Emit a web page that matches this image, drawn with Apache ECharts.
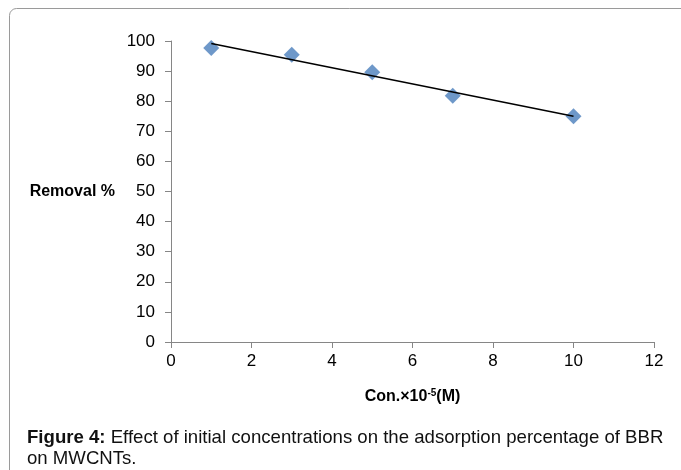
<!DOCTYPE html>
<html>
<head>
<meta charset="utf-8">
<script src="https://cdn.jsdelivr.net/npm/echarts@6/dist/echarts.min.js"></script>
<style>
html,body{margin:0;padding:0;background:#fff;}
#chart{width:681px;height:470px;}
</style>
</head>
<body>
<div id="chart"></div>
<script>
// Data
const concX = [1, 3, 5, 7, 10];
const removalY = [97.7, 95.4, 89.6, 81.8, 75.0];
// Linear trendline end points
const trendX = [1, 10];
const trendY = [99.2, 75.0];
const xTicks = [0, 2, 4, 6, 8, 10, 12];
const yTicks = [0, 10, 20, 30, 40, 50, 60, 70, 80, 90, 100];

const axisFont = 'Liberation Sans, sans-serif';
const chart = echarts.init(document.getElementById('chart'), null, {renderer: 'canvas'});
chart.setOption({
  animation: false,
  backgroundColor: '#ffffff',
  grid: {left: 171, right: 27, top: 41, bottom: 128, containLabel: false},
  xAxis: {
    type: 'value',
    min: xTicks[0], max: xTicks[xTicks.length - 1], interval: 2,
    splitLine: {show: false},
    axisLine: {show: true, onZero: false, lineStyle: {color: '#868686', width: 1}},
    axisTick: {show: true, inside: false, length: 6, lineStyle: {color: '#868686'}},
    axisLabel: {color: '#000', fontFamily: axisFont, fontSize: 17, margin: 11},
    name: '{b|Con.×10}{s|-5}{b|(M)}',
    nameLocation: 'middle',
    nameGap: 46,
    nameTextStyle: {
      rich: {
        b: {fontFamily: axisFont, fontWeight: 'bold', fontSize: 16, color: '#000'},
        s: {fontFamily: axisFont, fontWeight: 'bold', fontSize: 10, color: '#000', verticalAlign: 'top', padding: [0, 0, 8, 0]}
      }
    }
  },
  yAxis: {
    type: 'value',
    min: yTicks[0], max: yTicks[yTicks.length - 1], interval: 10,
    splitLine: {show: false},
    axisLine: {show: true, lineStyle: {color: '#868686', width: 1}},
    axisTick: {show: true, inside: false, length: 6, lineStyle: {color: '#868686'}},
    axisLabel: {color: '#000', fontFamily: axisFont, fontSize: 17, margin: 16},
    name: 'Removal %',
    nameLocation: 'middle',
    nameRotate: 0,
    nameGap: 56,
    nameTextStyle: {fontFamily: axisFont, fontWeight: 'bold', fontSize: 16, color: '#000', align: 'right'}
  },
  series: [
    {
      type: 'scatter',
      data: concX.map((x, i) => [x, removalY[i]]),
      symbol: 'diamond',
      symbolSize: [16, 16],
      itemStyle: {color: '#4a7ebb'},
      z: 2
    },
    {
      type: 'line',
      data: trendX.map((x, i) => [x, trendY[i]]),
      showSymbol: false,
      symbol: 'none',
      lineStyle: {color: '#000', width: 1.5},
      z: 3
    }
  ],
  graphic: [
    {
      type: 'rect',
      shape: {x: 9.5, y: 8.5, width: 720, height: 520, r: 7},
      style: {fill: 'none', stroke: '#9a9a9a', lineWidth: 1},
      silent: true
    },
    {
      type: 'text',
      left: 27, top: 428,
      style: {
        text: '{b|Figure 4:}{n| Effect of initial concentrations on the adsorption percentage of BBR}\n{n|on MWCNTs.}',
        rich: {
          b: {fontFamily: 'Liberation Sans, Arial, sans-serif', fontWeight: 'bold', fontSize: 18.6, fill: '#111', lineHeight: 21},
          n: {fontFamily: 'Liberation Sans, Arial, sans-serif', fontSize: 18.6, fill: '#111', lineHeight: 21}
        }
      }
    }
  ]
});
</script>
</body>
</html>
